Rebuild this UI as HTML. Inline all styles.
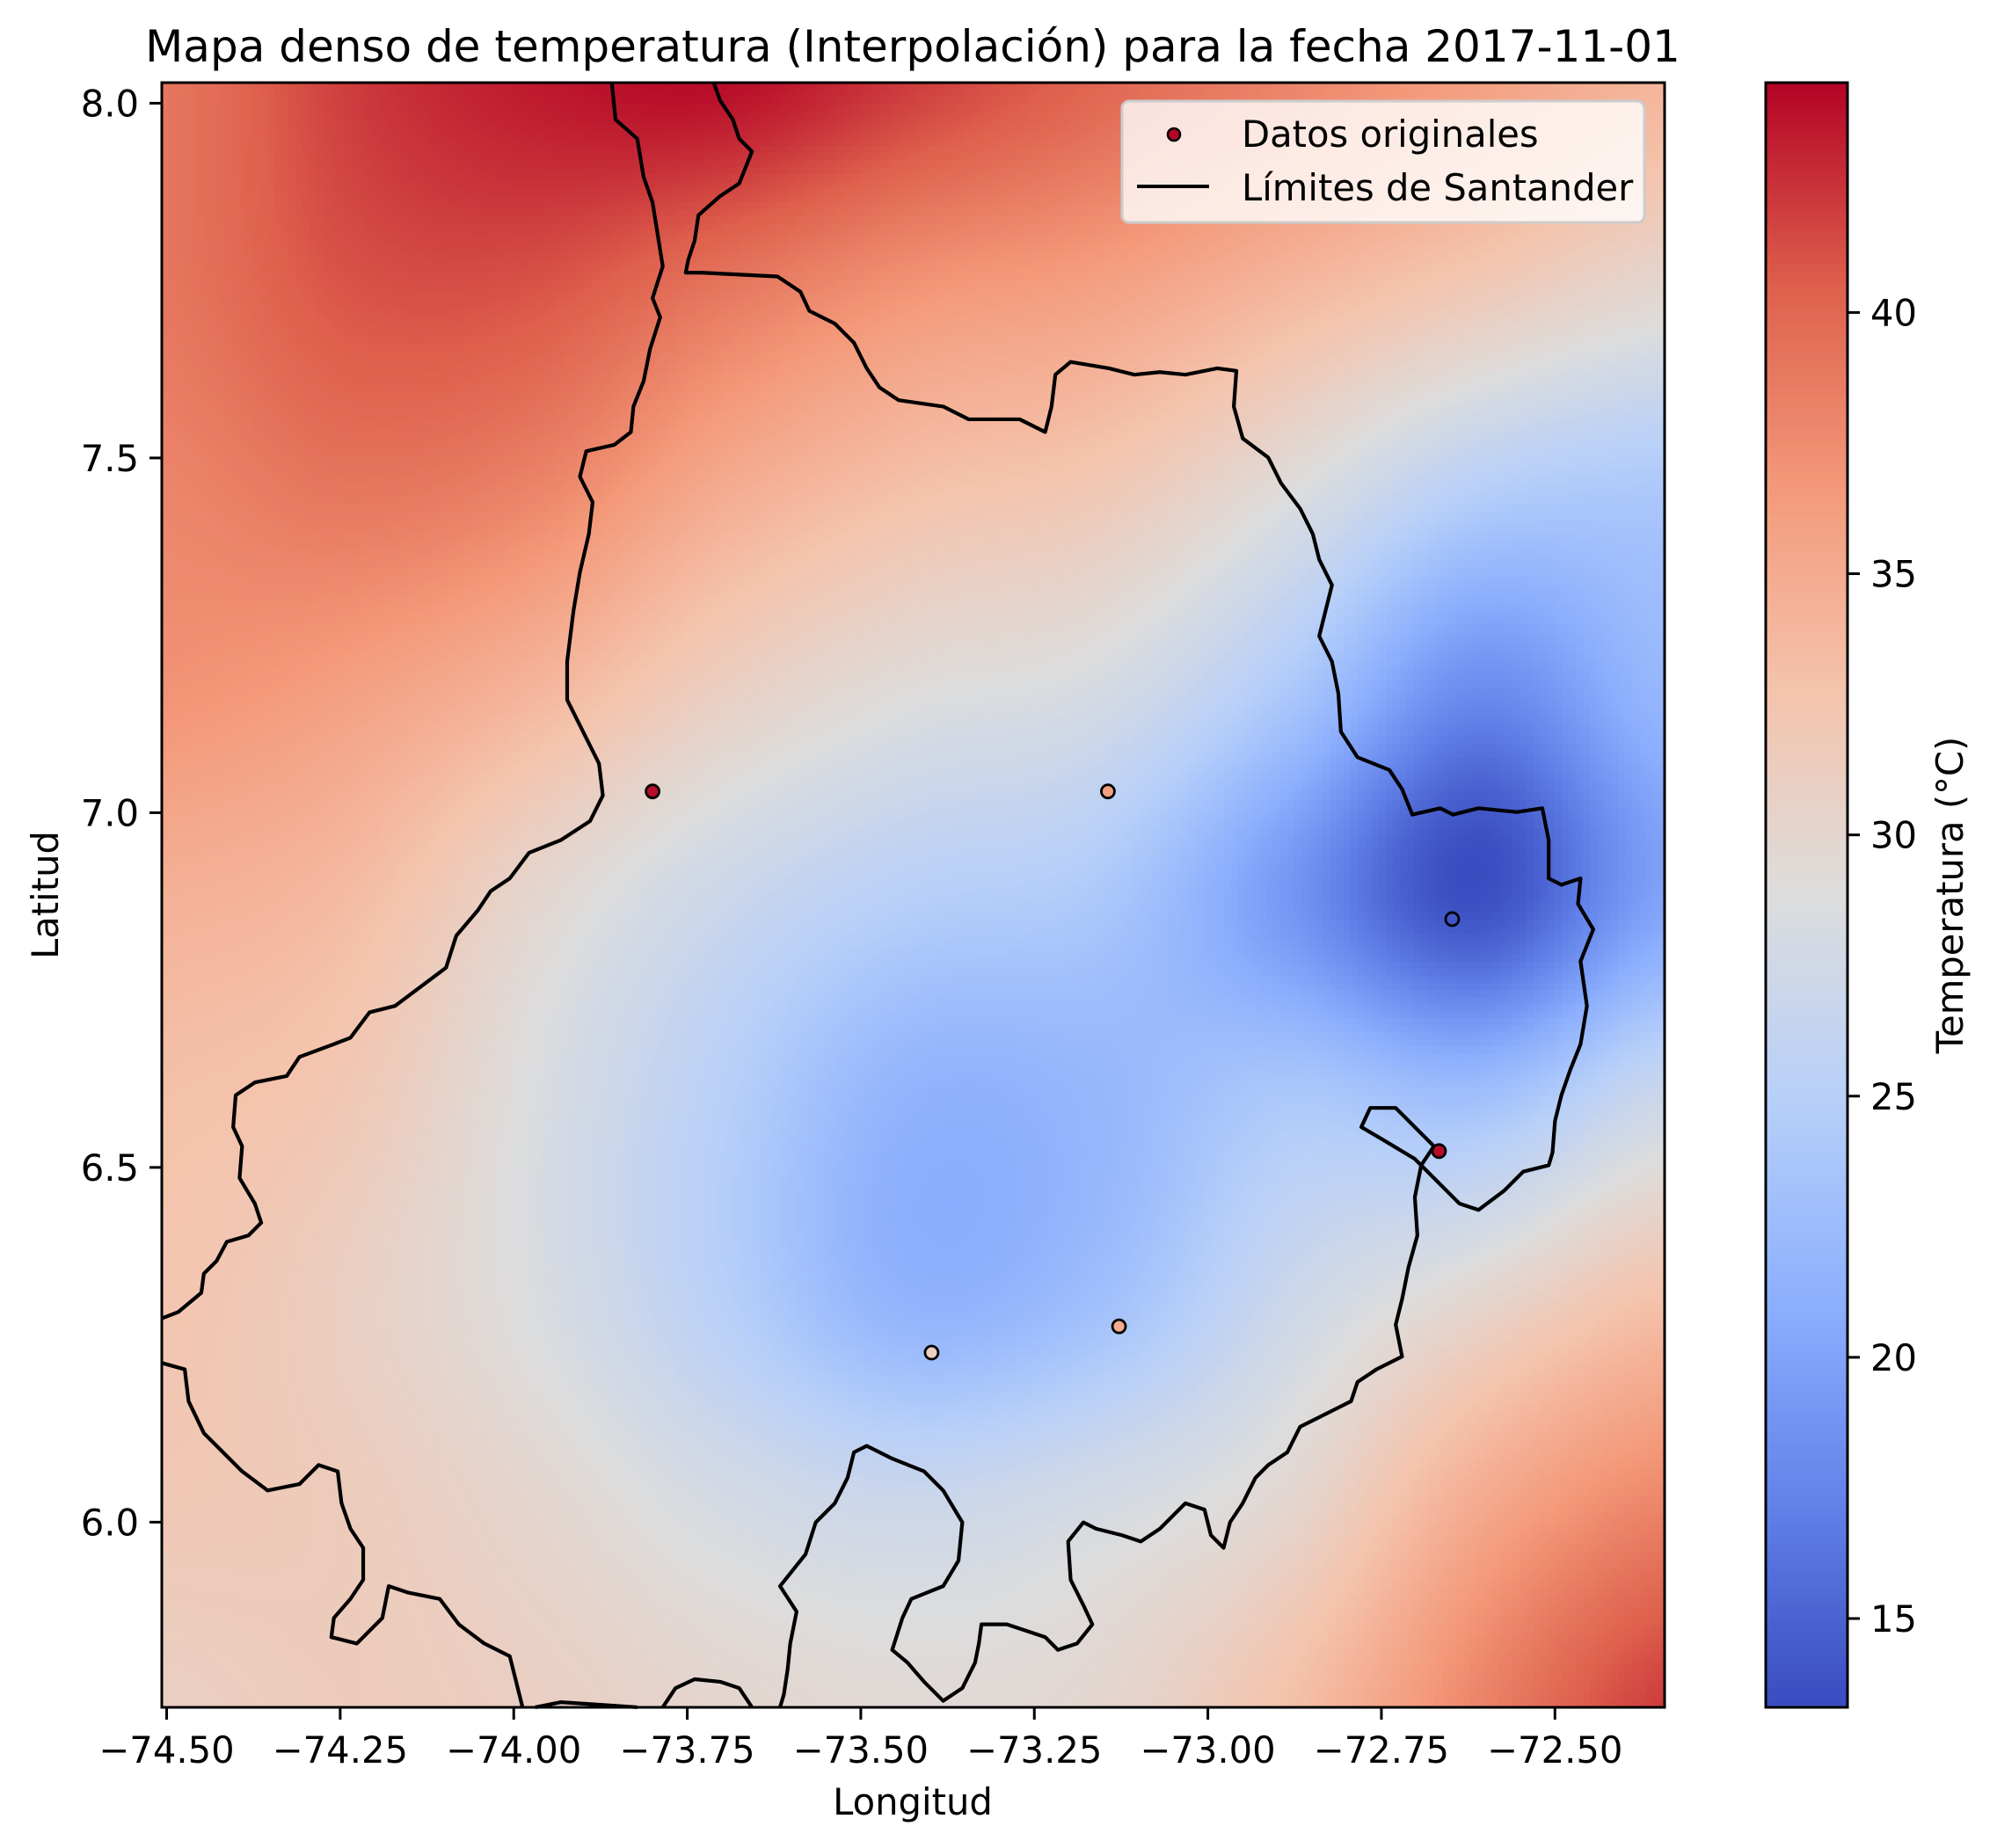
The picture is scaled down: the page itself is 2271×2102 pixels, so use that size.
<!DOCTYPE html>
<html><head><meta charset="utf-8">
<style>
html,body{margin:0;padding:0;background:#fff;}
#wrap{position:relative;width:2271px;height:2102px;overflow:hidden;font-family:"DejaVu Sans","Liberation Sans",sans-serif;}
#heat{position:absolute;left:184px;top:94px;}
#cbar{position:absolute;left:2008px;top:94px;}
svg{position:absolute;left:0;top:0;}
</style></head>
<body>
<div id="wrap">
<canvas id="heat" width="1709" height="1848"></canvas>
<canvas id="cbar" width="93" height="1848"></canvas>
<svg id="svg" width="2271" height="2102" xmlns="http://www.w3.org/2000/svg">
<text x="1038" y="70" font-size="50" text-anchor="middle" font-family="DejaVu Sans, Liberation Sans, sans-serif">Mapa denso de temperatura (Interpolación) para la fecha 2017-11-01</text>
<g id="boundary" transform="translate(184,94) scale(1.4496,1.4505) translate(-127,-66)" fill="none" stroke="#000" stroke-width="2.9" stroke-linejoin="round">
<polyline points="480,66 483,95 500,110 505,140 512,160 520,210 512,235 518,250 510,275 505,300 497,320 495,340 482,350 460,355 455,375 465,395 462,420 455,450 450,480 445,520 445,550 460,580 470,600 473,625 463,645 440,660 415,670 400,690 385,700 375,715 358,735 350,760 330,775 310,790 290,795 275,815 262,820 235,830 225,845 200,850 185,860 183,885 190,900 188,925 200,945 205,960 195,970 178,975 170,990 160,1000 158,1015 140,1030 127,1035"/>
<polyline points="560,66 565,80 575,95 580,110 590,120 580,145 565,155 548,170 545,190 540,205 538,215 550,215 610,218 628,230 635,245 655,255 670,270 680,290 690,305 705,315 740,320 760,330 800,330 820,340 825,320 828,295 840,285 870,290 890,295 910,293 930,295 955,290 970,292 968,320 975,345 995,360 1005,380 1020,400 1030,420 1035,440 1045,460 1040,480 1035,500 1045,520 1050,545 1052,575 1065,595 1090,605 1100,620 1108,640 1130,635 1140,640 1160,635 1190,638 1210,635 1215,660 1215,690 1225,695 1240,690 1238,710 1250,730 1240,755 1245,790 1240,820 1232,840 1225,860 1220,880 1218,905 1215,915 1195,920 1180,935 1160,950 1145,945 1125,925 1110,910 1085,895 1068,885 1075,870 1095,870 1110,885 1125,900 1115,915 1110,940 1112,970 1105,995 1100,1020 1095,1040 1100,1065 1080,1075 1065,1085 1060,1100 1040,1110 1020,1120 1010,1140 995,1150 985,1160 975,1180 965,1195 960,1215 950,1205 945,1185 930,1180 910,1200 895,1210 880,1205 860,1200 850,1195 838,1210 840,1240 850,1260 857,1275 845,1290 830,1295 820,1285 790,1275 770,1275 768,1290 765,1305 755,1325 740,1335 725,1320 712,1305 700,1295 708,1270 715,1255 740,1245 752,1225 755,1195 740,1170 725,1155 700,1145 680,1135 670,1140 665,1160 655,1180 640,1195 632,1220 620,1235 612,1245 625,1265 620,1290 618,1310 615,1330 612,1340"/>
<polyline points="127,1070 145,1075 148,1100 160,1125 175,1140 190,1155 210,1170 235,1165 250,1150 265,1155 268,1180 275,1200 285,1215 285,1240 275,1255 262,1270 260,1285 280,1290 300,1270 305,1245 320,1250 345,1255 360,1275 380,1290 400,1300 405,1320 410,1340"/>
<polyline points="420,1340 440,1336 470,1338 500,1340"/>
<polyline points="520,1340 530,1325 545,1318 565,1320 580,1325 590,1340"/>
</g>
<g id="points"></g>
<rect x="184" y="94" width="1709" height="1848" fill="none" stroke="#000" stroke-width="3"/>
<rect x="2008" y="94" width="93" height="1848" fill="none" stroke="#000" stroke-width="3"/>
<g id="xticks"></g>
<g id="yticks"></g>
<g id="cticks"></g>
<text x="1038" y="2064" font-size="41.7" text-anchor="middle">Longitud</text>
<text x="0" y="0" font-size="41.7" text-anchor="middle" transform="translate(66,1018) rotate(-90)">Latitud</text>
<text x="0" y="0" font-size="41.7" text-anchor="middle" transform="translate(2232,1018) rotate(-90)">Temperatura (°C)</text>
<g>
<rect x="1276" y="115" width="594" height="138" rx="8" fill="#fff" fill-opacity="0.8" stroke="#cccccc" stroke-width="3"/>
<circle cx="1335" cy="153" r="7" fill="#b40426" stroke="#000" stroke-width="2.5"/>
<text x="1412" y="167" font-size="41.7">Datos originales</text>
<line x1="1293" y1="212" x2="1375" y2="212" stroke="#000" stroke-width="4"/>
<text x="1412" y="228" font-size="41.7">Límites de Santander</text>
</g>
</svg>
</div>
<script>
// ---- data ----
const lonMin = -74.507, lonMax = -72.342, latMin = 5.739, latMax = 8.029;
const vMin = 13.3, vMax = 44.4;
const gridRow0 = [39,42,43.5,44,42,40,38,36,34];
const gridRow1 = [39,41,41,39,37,36,34,32,30];
const gridRow2 = [38,39,38,35,33,32,29,25,24];
const gridRow3 = [37,36,34,31,29,28,24,18,22];
const gridRow4 = [34.5,33.5,30,27,25,24,19,13.5,20];
const gridRow5 = [33,32,28.5,25,21.5,22,24,23,27];
const gridRow6 = [32.5,31,28.5,25,21.5,23,27,30,33];
const gridRow7 = [32,31.5,30,28,27,28,30,35,38];
const gridRow8 = [31,31.5,31,30,29.5,30,33,38,42];
const pointLon = [-73.80,-73.144,-72.648,-72.667,-73.398,-73.128];
const pointLat = [7.03,7.03,6.85,6.523,6.239,6.276];
const pointTemp = [44,36,14,44,31,35];
const xTickVals = [-74.50,-74.25,-74.00,-73.75,-73.50,-73.25,-73.00,-72.75,-72.50];
const xTickLabels = ["−74.50","−74.25","−74.00","−73.75","−73.50","−73.25","−73.00","−72.75","−72.50"];
const yTickVals = [6.0,6.5,7.0,7.5,8.0];
const yTickLabels = ["6.0","6.5","7.0","7.5","8.0"];
const cTickVals = [15,20,25,30,35,40];
const cTickLabels = ["15","20","25","30","35","40"];

// ---- scales ----
const PX=184, PY=94, PW=1709, PH=1848;
const xS = lon => PX + (lon-lonMin)/(lonMax-lonMin)*PW;
const yS = lat => PY + (latMax-lat)/(latMax-latMin)*PH;
const cS = v => PY + (vMax-v)/(vMax-vMin)*PH;
const cmStops=[[58,76,192],[98,130,234],[141,176,254],[184,208,249],[221,221,221],[245,196,173],[244,154,123],[222,96,77],[180,4,38]];
function cmap(t){t=Math.max(0,Math.min(1,t));const f=t*8,i=Math.min(7,Math.floor(f)),u=f-i;const a=cmStops[i],b=cmStops[i+1];return [a[0]+(b[0]-a[0])*u,a[1]+(b[1]-a[1])*u,a[2]+(b[2]-a[2])*u];}
function col(v){const c=cmap((v-vMin)/(vMax-vMin));return `rgb(${c[0]|0},${c[1]|0},${c[2]|0})`;}

// ---- heatmap ----
const grid=[gridRow0,gridRow1,gridRow2,gridRow3,gridRow4,gridRow5,gridRow6,gridRow7,gridRow8];
function cr(p0,p1,p2,p3,t){return 0.5*((2*p1)+(-p0+p2)*t+(2*p0-5*p1+4*p2-p3)*t*t+(-p0+3*p1-3*p2+p3)*t*t*t);}
function g(r,c){r=Math.max(0,Math.min(8,r));c=Math.max(0,Math.min(8,c));return grid[r][c];}
function sample(fx,fy){const c=Math.floor(fx),r=Math.floor(fy),tx=fx-c,ty=fy-r;const rows=[];for(let k=-1;k<=2;k++){rows.push(cr(g(r+k,c-1),g(r+k,c),g(r+k,c+1),g(r+k,c+2),tx));}return cr(rows[0],rows[1],rows[2],rows[3],ty);}
(function(){
 const cv=document.getElementById('heat'),ctx=cv.getContext('2d');const B=8;
 for(let y=0;y<PH;y+=B)for(let x=0;x<PW;x+=B){const fx=(x+B/2)/PW*8,fy=(y+B/2)/PH*8;ctx.fillStyle=col(sample(fx,fy));ctx.fillRect(x,y,B,B);}
 const cb=document.getElementById('cbar'),c2=cb.getContext('2d');
 for(let y=0;y<PH;y+=2){c2.fillStyle=col(vMax-(y+1)/PH*(vMax-vMin));c2.fillRect(0,y,93,2);}
})();

// ---- marks ----
const NS='http://www.w3.org/2000/svg';
const pts=document.getElementById('points');
for(let i=0;i<pointLon.length;i++){
 const c=document.createElementNS(NS,'circle');
 c.setAttribute('cx',xS(pointLon[i]));c.setAttribute('cy',yS(pointLat[i]));c.setAttribute('r',7.5);
 c.setAttribute('fill',col(pointTemp[i]));c.setAttribute('stroke','#000');c.setAttribute('stroke-width',2.8);
 
 
 pts.appendChild(c);
}
const xt=document.getElementById('xticks');
xTickVals.forEach((v,i)=>{
 const x=xS(v);
 const l=document.createElementNS(NS,'line');l.setAttribute('x1',x);l.setAttribute('x2',x);l.setAttribute('y1',1942);l.setAttribute('y2',1956);l.setAttribute('stroke','#000');l.setAttribute('stroke-width',3);
 
 
 xt.appendChild(l);
 const t=document.createElementNS(NS,'text');t.setAttribute('x',x);t.setAttribute('y',2005);t.setAttribute('font-size','41.7');t.setAttribute('text-anchor','middle');t.textContent=xTickLabels[i];
 
 
 xt.appendChild(t);
});
const yt=document.getElementById('yticks');
yTickVals.forEach((v,i)=>{
 const y=yS(v);
 const l=document.createElementNS(NS,'line');l.setAttribute('x1',170);l.setAttribute('x2',184);l.setAttribute('y1',y);l.setAttribute('y2',y);l.setAttribute('stroke','#000');l.setAttribute('stroke-width',3);
 
 
 yt.appendChild(l);
 const t=document.createElementNS(NS,'text');t.setAttribute('x',158);t.setAttribute('y',y+15);t.setAttribute('font-size','41.7');t.setAttribute('text-anchor','end');t.textContent=yTickLabels[i];
 
 
 yt.appendChild(t);
});
const ct=document.getElementById('cticks');
cTickVals.forEach((v,i)=>{
 const y=cS(v);
 const l=document.createElementNS(NS,'line');l.setAttribute('x1',2101);l.setAttribute('x2',2115);l.setAttribute('y1',y);l.setAttribute('y2',y);l.setAttribute('stroke','#000');l.setAttribute('stroke-width',3);
 
 
 ct.appendChild(l);
 const t=document.createElementNS(NS,'text');t.setAttribute('x',2127);t.setAttribute('y',y+15);t.setAttribute('font-size','41.7');t.textContent=cTickLabels[i];
 
 
 ct.appendChild(t);
});
</script>
</body></html>
